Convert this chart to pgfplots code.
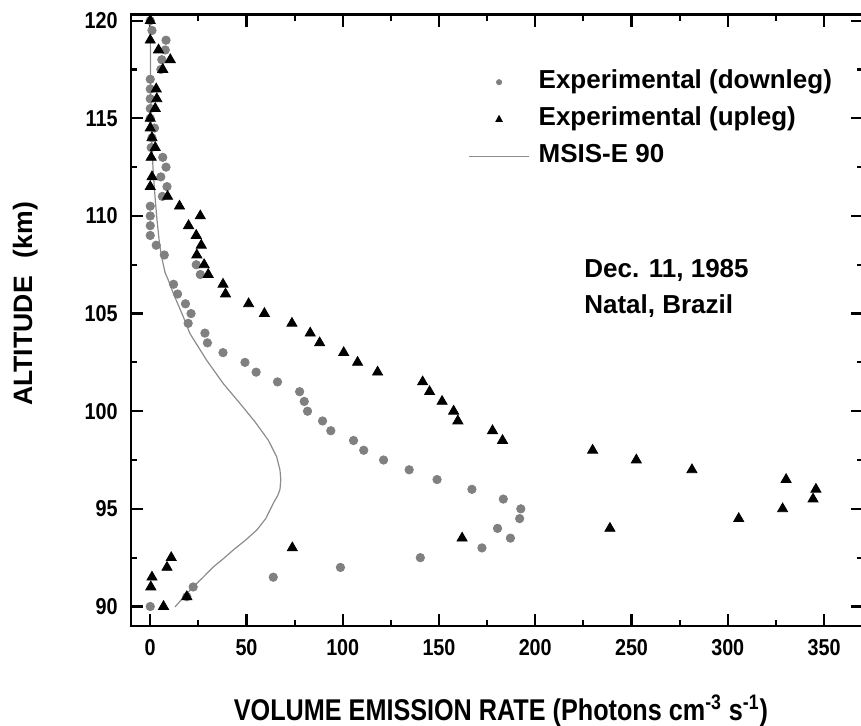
\documentclass[border=0pt]{standalone}
\usepackage{fontspec}
\setmainfont{Liberation Sans}
\newfontfamily\narrowfont{Liberation Sans}[FakeStretch=0.86]
\newfontfamily\xlabfont{Liberation Sans}[FakeStretch=0.84]
\usepackage{pgfplots}
\pgfplotsset{compat=1.18}
\usepackage{pgfplotstable}
\definecolor{dgray}{RGB}{128,128,128}
\definecolor{lgray}{RGB}{140,140,140}

\pgfplotstableread{
x y
0 90.0
19 90.5
22.3 91.0
63.9 91.5
98.8 92.0
140.3 92.5
172.3 93.0
187.1 93.5
180.4 94.0
191.9 94.5
192.5 95.0
183.4 95.5
167.1 96.0
149.0 96.5
134.5 97.0
121.2 97.5
110.9 98.0
105.6 98.5
93.8 99.0
89.5 99.5
81.7 100.0
80.0 100.5
77.6 101.0
66.1 101.5
55.0 102.0
49.2 102.5
37.8 103.0
29.7 103.5
28.4 104.0
19.7 104.5
21.2 105.0
18.3 105.5
14.2 106.0
12.1 106.5
26.0 107.0
23.9 107.5
7.3 108.0
3.1 108.5
0 109.0
0 109.5
0 110.0
0 110.5
6.3 111.0
8.7 111.5
5.5 112.0
8.2 112.5
6.5 113.0
0.5 113.5
0.9 114.0
2.2 114.5
0 115.0
0 115.5
0 116.0
0 116.5
0 117.0
5.5 117.5
6.0 118.0
7.8 118.5
8.2 119.0
0.9 119.5
0 120.0
}\downleg

\pgfplotstableread{
x y
6.9 90.0
19 90.5
0.3 91.0
0.9 91.5
8.7 92.0
10.9 92.5
73.8 93.0
162.0 93.5
238.8 94.0
305.7 94.5
328.5 95.0
344.3 95.5
345.8 96.0
330.3 96.5
281.4 97.0
252.5 97.5
229.8 98.0
183.0 98.5
177.8 99.0
159.8 99.5
157.6 100.0
151.6 100.5
145.1 101.0
141.5 101.5
118.1 102.0
107.7 102.5
100.5 103.0
88.0 103.5
83.1 104.0
73.6 104.5
59.3 105.0
51.1 105.5
39.1 106.0
37.8 106.5
30.1 107.0
28.0 107.5
24.2 108.0
26.5 108.5
23.9 109.0
19.9 109.5
26.0 110.0
15.2 110.5
9.0 111.0
0 111.5
0.9 112.0
0.5 113.0
2.6 113.5
0.9 114.0
0 114.5
0 115.0
2.6 115.5
3.4 116.0
3.1 116.5
6.5 117.5
10.4 118.0
4.3 118.5
0 119.0
0 120.0
}\upleg

\pgfplotstableread{
x y
12.9 89.98
17.5 90.5
22.4 91.01
27.5 91.5
32.8 92.03
38.0 92.45
43.1 92.89
49.5 93.4
55.3 93.91
60.0 94.5
63.9 95.28
66.3 95.7
67.4 96.0
67.8 96.5
67.4 96.98
65.7 97.66
61.3 98.52
54.4 99.46
46.6 100.4
37.9 101.42
29.3 102.61
20.6 103.98
17.2 104.83
12.0 106.03
9.4 106.71
7.7 107.1
5.9 107.9
4.8 108.6
3.4 109.9
2.3 111.2
1.4 112.5
0.8 113.8
0.4 115.5
0.15 117.5
0.0 120.0
}\msis

\begin{document}
\begin{tikzpicture}
\begin{axis}[
  at={(0,0)}, anchor=south west,
  scale only axis,
  width=365.75pt, height=305.6pt,
  xmin=-10, xmax=370, ymin=89, ymax=120.3,
  xtick={0,50,...,350}, minor xtick={25,75,...,375},
  ytick={90,95,...,120}, minor ytick={92.5,97.5,...,117.5},
  tick align=inside,
  major tick length=6pt, minor tick length=3pt,
  every tick/.style={line width=1.1pt, black},
  axis line style={line width=1.4pt},
  /pgf/number format/assume math mode=true,
  tick label style={font=\narrowfont\bfseries\fontsize{11.5}{13}\selectfont},
  xticklabel style={yshift=-3.2pt},
  yticklabel style={xshift=-3.2pt},
  xlabel={VOLUME EMISSION RATE (Photons cm\textsuperscript{-3} s\textsuperscript{-1})},
  ylabel={ALTITUDE\hspace{9pt}(km)},
  xlabel style={font=\xlabfont\bfseries\fontsize{15}{17}\selectfont,
    at={(axis description cs:0.5058,-0.1538)}, anchor=base},
  ylabel style={font=\bfseries\fontsize{13.3}{15}\selectfont,
    at={(axis description cs:-0.1353,0.527)}, anchor=base},
  legend style={at={(axis cs:165.1,117.51)}, anchor=north west, draw=none, fill=none,
    inner sep=0pt, row sep=6pt, column sep=4.5pt,
    font=\fontsize{13}{15}\selectfont\bfseries,
    nodes={inner sep=0pt, text height=9.5pt, text depth=3pt}},
  legend cell align=left,
]
\addplot[only marks, mark=*, mark size=2.1pt, color=dgray,
  legend image code/.code={\path[draw=none,fill=none] (0pt,0pt) -- (30pt,0pt); \fill[dgray] (15pt,0pt) circle (1.3pt);}]
  table[x=x,y=y] {\downleg};
\addlegendentry{Experimental (downleg)}
\addplot[only marks, mark=triangle*, mark size=2.9pt, color=black,
  legend image code/.code={\path[draw=none,fill=none] (0pt,0pt) -- (30pt,0pt); \fill[black] (13.4pt,-1.2pt) -- (16.6pt,-1.2pt) -- (15pt,1.8pt) -- cycle;}]
  table[x=x,y=y] {\upleg};
\addlegendentry{Experimental (upleg)}
\addplot[no marks, color=lgray, line width=0.6pt,
  legend image code/.code={\draw[lgray, line width=0.6pt] (0pt,0pt) -- (30pt,0pt);}]
  table[x=x,y=y] {\msis};
\addlegendentry{MSIS-E 90}
\node[anchor=base west, inner sep=0pt, font=\fontsize{13}{15}\selectfont\bfseries] at (axis cs:225.3,106.87) {Dec. 11, 1985};
\node[anchor=base west, inner sep=0pt, font=\fontsize{13}{15}\selectfont\bfseries] at (axis cs:225.3,105.02) {Natal, Brazil};
\end{axis}
\pgfresetboundingbox
\path[use as bounding box] (-65.5pt,-49.5pt) rectangle (365pt,313pt);
\end{tikzpicture}
\end{document}
